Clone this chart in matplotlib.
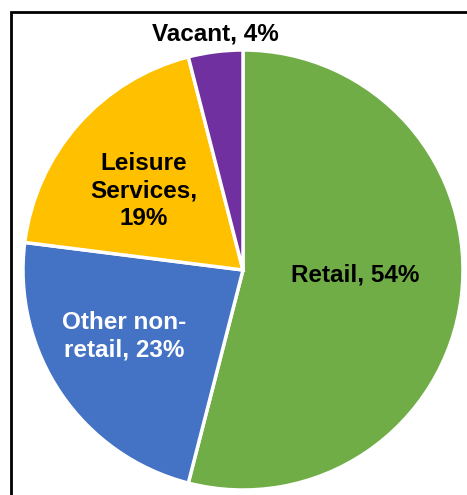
import matplotlib.pyplot as plt
from matplotlib.patches import Rectangle

# space use shares, clockwise from 12 o'clock
labels = ['Retail', 'Other non-\nretail', 'Leisure\nServices', 'Vacant']
shares = [54, 23, 19, 4]
colors = ['#70AD47', '#4472C4', '#FFC000', '#7030A0']

W, H = 467, 495
fig = plt.figure(figsize=(W / 100, H / 100), dpi=100)
ax = fig.add_axes([0, 0, 1, 1])

cx, cy, r = 243, H - 270, 220
ax.pie(shares, colors=colors, startangle=90, counterclock=False,
       center=(cx, cy), radius=r, frame=True,
       wedgeprops=dict(edgecolor='white', linewidth=2.5))
ax.set_xlim(0, W)
ax.set_ylim(0, H)
ax.set_aspect('equal')
ax.axis('off')

# outer frame, runs off the right and bottom
ax.add_patch(Rectangle((10.5, -20), 500, H - 11.5 + 20, fill=False,
                       edgecolor='black', linewidth=2))

font = dict(family=['Liberation Sans', 'DejaVu Sans'], fontweight='bold',
            fontsize=17.5, ha='center', va='center', linespacing=1.25)
ax.text(355, H - 275, f'{labels[0]}, {shares[0]}%', color='black', **font)
ax.text(124, H - 336, f'{labels[1]}, {shares[1]}%', color='white', **font)
ax.text(144, H - 191, f'{labels[2]},\n{shares[2]}%', color='black', **font)
ax.text(215, H - 34, f'{labels[3]}, {shares[3]}%', color='black', **font)

fig.savefig('out.png', dpi=100)
